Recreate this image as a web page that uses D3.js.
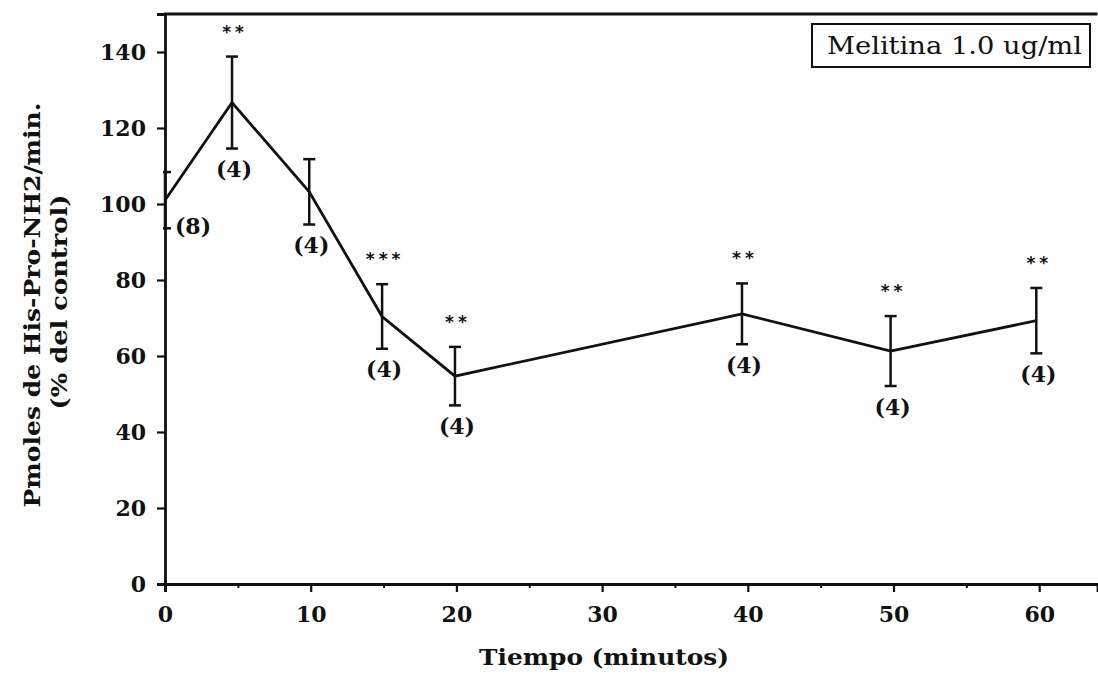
<!DOCTYPE html>
<html>
<head>
<meta charset="utf-8">
<script src="https://cdn.jsdelivr.net/npm/d3@7"></script>
<style>
  html, body { margin: 0; padding: 0; background: #fff; }
  svg { display: block; }
</style>
</head>
<body>
<svg id="chart" width="1098" height="689"></svg>
<script>
// ---- data ----
const times    = [0, 4.6, 9.9, 14.9, 19.9, 39.6, 49.8, 59.8];
const means    = [101, 126.7, 103.2, 70.4, 54.7, 71.1, 61.3, 69.3];
const sems     = [7.4, 12.1, 8.6, 8.5, 7.7, 8.0, 9.2, 8.6];
const nLabels  = ["(8)", "(4)", "(4)", "(4)", "(4)", "(4)", "(4)", "(4)"];
const stars    = ["", "**", "", "***", "**", "**", "**", "**"];
const xTicks   = [0, 10, 20, 30, 40, 50, 60];
const xMinor   = [5, 15, 25, 35, 45, 55];
const yTicks   = [0, 20, 40, 60, 80, 100, 120, 140];
const legendText = "Melitina 1.0 ug/ml";
const xTitle = "Tiempo (minutos)";
const yTitle1 = "Pmoles de His-Pro-NH2/min.";
const yTitle2 = "(% del control)";

const svg = d3.select("#chart");
const x = d3.scaleLinear().domain([0, 64]).range([165, 1097.5]);
const y = d3.scaleLinear().domain([0, 150]).range([584, 14]);

const ink = "#111";
const boldSerif = "'DejaVu Serif', serif";

// axes
const xAxis = d3.axisBottom(x).tickValues(xTicks).tickSize(8).tickPadding(14)
  .tickFormat(d3.format("d"));
const gx = svg.append("g").attr("transform", `translate(0,${y(0)})`).call(xAxis);
gx.select(".domain").attr("stroke", ink).attr("stroke-width", 2.8);
gx.selectAll(".tick line").attr("stroke", ink).attr("stroke-width", 2.2);
gx.selectAll(".tick text").attr("fill", ink)
  .style("font-family", boldSerif).style("font-weight", "bold").style("font-size", "22px");
gx.selectAll(".tick").filter(d => d === 0).select("line").attr("y1", -6);

const xMinorAxis = d3.axisBottom(x).tickValues(xMinor).tickSize(4).tickFormat("");
const gxm = svg.append("g").attr("transform", `translate(0,${y(0)})`).call(xMinorAxis);
gxm.select(".domain").remove();
gxm.selectAll(".tick line").attr("stroke", ink).attr("stroke-width", 2);

const yAxis = d3.axisLeft(y).tickValues(yTicks).tickSize(8).tickPadding(11)
  .tickFormat(d3.format("d"));
const gy = svg.append("g").attr("transform", `translate(${x(0)},0)`).call(yAxis);
gy.select(".domain").attr("stroke", ink).attr("stroke-width", 2.8);
gy.selectAll(".tick line").attr("stroke", ink).attr("stroke-width", 2.2);
gy.selectAll(".tick text").attr("fill", ink)
  .style("font-family", boldSerif).style("font-weight", "bold").style("font-size", "22px");

// top frame line
svg.append("line")
  .attr("x1", x(0) - 1).attr("x2", x(64)).attr("y1", y(150)).attr("y2", y(150))
  .attr("stroke", ink).attr("stroke-width", 2.8);

// data
const data = times.map((t, i) => ({t, m: means[i], s: sems[i], n: nLabels[i], st: stars[i]}));

svg.append("path").datum(data)
  .attr("fill", "none").attr("stroke", ink).attr("stroke-width", 2.8)
  .attr("stroke-linejoin", "miter")
  .attr("d", d3.line().x(d => x(d.t)).y(d => y(d.m)));

const eb = svg.append("g").attr("stroke", ink).attr("stroke-width", 2.5);
const capW = 6;
data.forEach((d, i) => {
  const cx = x(d.t);
  const left = i === 0 ? cx - 2 : cx - capW;
  eb.append("line").attr("x1", cx).attr("x2", cx).attr("y1", y(d.m + d.s)).attr("y2", y(d.m - d.s));
  eb.append("line").attr("x1", left).attr("x2", cx + capW).attr("y1", y(d.m + d.s)).attr("y2", y(d.m + d.s));
  eb.append("line").attr("x1", left).attr("x2", cx + capW).attr("y1", y(d.m - d.s)).attr("y2", y(d.m - d.s));
});

// n labels
svg.append("g").selectAll("text").data(data).join("text")
  .attr("x", (d, i) => i === 0 ? x(d.t) + 28 : x(d.t) + 2)
  .attr("y", (d, i) => i === 0 ? y(d.m - d.s) - 2 : y(d.m - d.s) + 21)
  .attr("dy", "0.35em")
  .attr("text-anchor", "middle")
  .attr("fill", ink)
  .style("font-family", boldSerif).style("font-weight", "bold").style("font-size", "22px")
  .text(d => d.n);

// significance stars
svg.append("g").selectAll("text").data(data.filter(d => d.st)).join("text")
  .attr("x", d => x(d.t) + 3)
  .attr("y", d => y(d.m + d.s) - 19)
  .attr("text-anchor", "middle")
  .attr("fill", ink)
  .style("font-family", "'DejaVu Sans', sans-serif").style("font-weight", "bold")
  .style("font-size", "17px").style("letter-spacing", "4px")
  .text(d => d.st);

// legend box
const lg = svg.append("g");
lg.append("rect").attr("x", 812).attr("y", 24).attr("width", 278).attr("height", 43)
  .attr("fill", "#fff").attr("stroke", ink).attr("stroke-width", 2);
lg.append("text").attr("x", 827).attr("y", 46).attr("dy", "0.35em")
  .attr("text-anchor", "start").attr("fill", ink)
  .attr("textLength", 255).attr("lengthAdjust", "spacingAndGlyphs")
  .style("font-family", "'DejaVu Serif', serif").style("font-size", "24px")
  .text(legendText);

// axis titles
svg.append("text").attr("x", 604).attr("y", 657).attr("dy", "0.35em")
  .attr("text-anchor", "middle").attr("fill", ink)
  .attr("textLength", 250).attr("lengthAdjust", "spacingAndGlyphs")
  .style("font-family", boldSerif).style("font-weight", "bold").style("font-size", "23px")
  .text(xTitle);

svg.append("text").attr("transform", "translate(32,305) rotate(-90)")
  .attr("dy", "0.35em").attr("text-anchor", "middle").attr("fill", ink)
  .attr("textLength", 405).attr("lengthAdjust", "spacingAndGlyphs")
  .style("font-family", boldSerif).style("font-weight", "bold").style("font-size", "22px")
  .text(yTitle1);
svg.append("text").attr("transform", "translate(59,302) rotate(-90)")
  .attr("dy", "0.35em").attr("text-anchor", "middle").attr("fill", ink)
  .attr("textLength", 215).attr("lengthAdjust", "spacingAndGlyphs")
  .style("font-family", boldSerif).style("font-weight", "bold").style("font-size", "23px")
  .text(yTitle2);
</script>
</body>
</html>
